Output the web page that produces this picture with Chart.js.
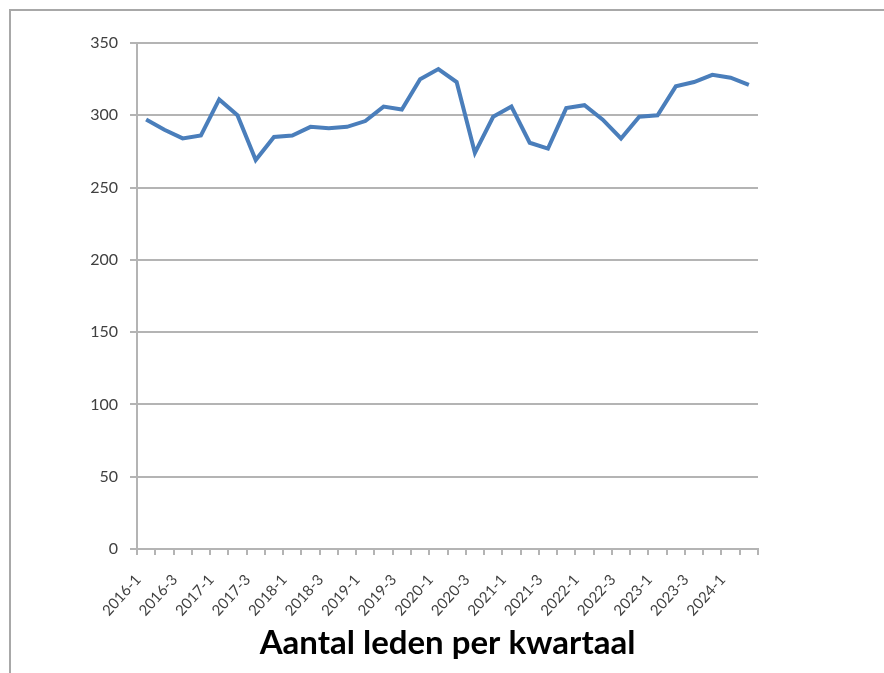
<!DOCTYPE html>
<html>
<head>
<meta charset="utf-8">
<script src="https://cdn.jsdelivr.net/npm/chart.js@4.4.1/dist/chart.umd.min.js"></script>
<style>
  html, body { margin: 0; padding: 0; background: #fff; overflow: hidden; }
  #wrap { position: relative; width: 884px; height: 673px; }
  #frame {
    position: absolute; left: 9px; top: 9px; width: 900px; height: 700px;
    border: 2px solid #a8a8a8; box-sizing: border-box;
  }
  canvas { position: absolute; left: 0; top: 0; }
</style>
</head>
<body>
<div id="wrap">
  <div id="frame"></div>
  <canvas id="chart" width="884" height="673"></canvas>
</div>
<script>
// quarters 2016-1 .. 2024-2
const quarters = [
  '2016-1', '2016-2', '2016-3', '2016-4',
  '2017-1', '2017-2', '2017-3', '2017-4',
  '2018-1', '2018-2', '2018-3', '2018-4',
  '2019-1', '2019-2', '2019-3', '2019-4',
  '2020-1', '2020-2', '2020-3', '2020-4',
  '2021-1', '2021-2', '2021-3', '2021-4',
  '2022-1', '2022-2', '2022-3', '2022-4',
  '2023-1', '2023-2', '2023-3', '2023-4',
  '2024-1', '2024-2'
];

const members = [
  297, 290, 284, 286,
  311, 300, 269, 285,
  286, 292, 291, 292,
  296, 306, 304, 325,
  332, 323, 274, 299,
  306, 281, 277, 305,
  307, 297, 284, 299,
  300, 320, 323, 328,
  326, 321
];

const yTicks = [0, 50, 100, 150, 200, 250, 300, 350];

const chartTitle = 'Aantal leden per kwartaal';

const gridColor = '#b4b4b4';
const labelColor = '#404040';

new Chart(document.getElementById('chart'), {
  type: 'line',
  data: {
    labels: quarters,
    datasets: [{
      data: members,
      borderColor: '#4a7ebb',
      borderWidth: 4,
      pointRadius: 0,
      tension: 0,
      fill: false
    }]
  },
  options: {
    responsive: false,
    animation: false,
    layout: {
      padding: { left: 0, right: 126, top: 43, bottom: 10 }
    },
    plugins: {
      legend: { display: false },
      tooltip: { enabled: false }
    },
    scales: {
      x: {
        offset: true,
        grid: {
          offset: true,
          drawOnChartArea: false,
          drawTicks: true,
          tickLength: 6,
          color: gridColor,
          lineWidth: 2
        },
        border: { color: gridColor, width: 2 },
        ticks: {
          autoSkip: false,
          maxRotation: 48,
          minRotation: 48,
          padding: 16,
          labelOffset: -8,
          color: labelColor,
          font: { family: 'Lato', size: 15 },
          callback: function (val, i) {
            return i % 2 === 0 ? this.getLabelForValue(val) : '';
          }
        },
        title: {
          display: true,
          text: chartTitle,
          color: '#000',
          font: { family: 'Lato', size: 33, weight: 'bold', lineHeight: 1.2 },
          padding: { top: 0, bottom: 0 }
        },
        afterFit: scale => { scale.height = 114; }
      },
      y: {
        min: 0,
        max: 350,
        afterBuildTicks: scale => {
          scale.ticks = yTicks.map(v => ({ value: v }));
        },
        grid: {
          color: gridColor,
          lineWidth: 2,
          drawTicks: true,
          tickLength: 7
        },
        border: { color: gridColor, width: 2 },
        ticks: {
          padding: 12,
          color: labelColor,
          font: { family: 'Lato', size: 16 }
        },
        afterFit: scale => { scale.width = 137; }
      }
    }
  }
});
</script>
</body>
</html>
